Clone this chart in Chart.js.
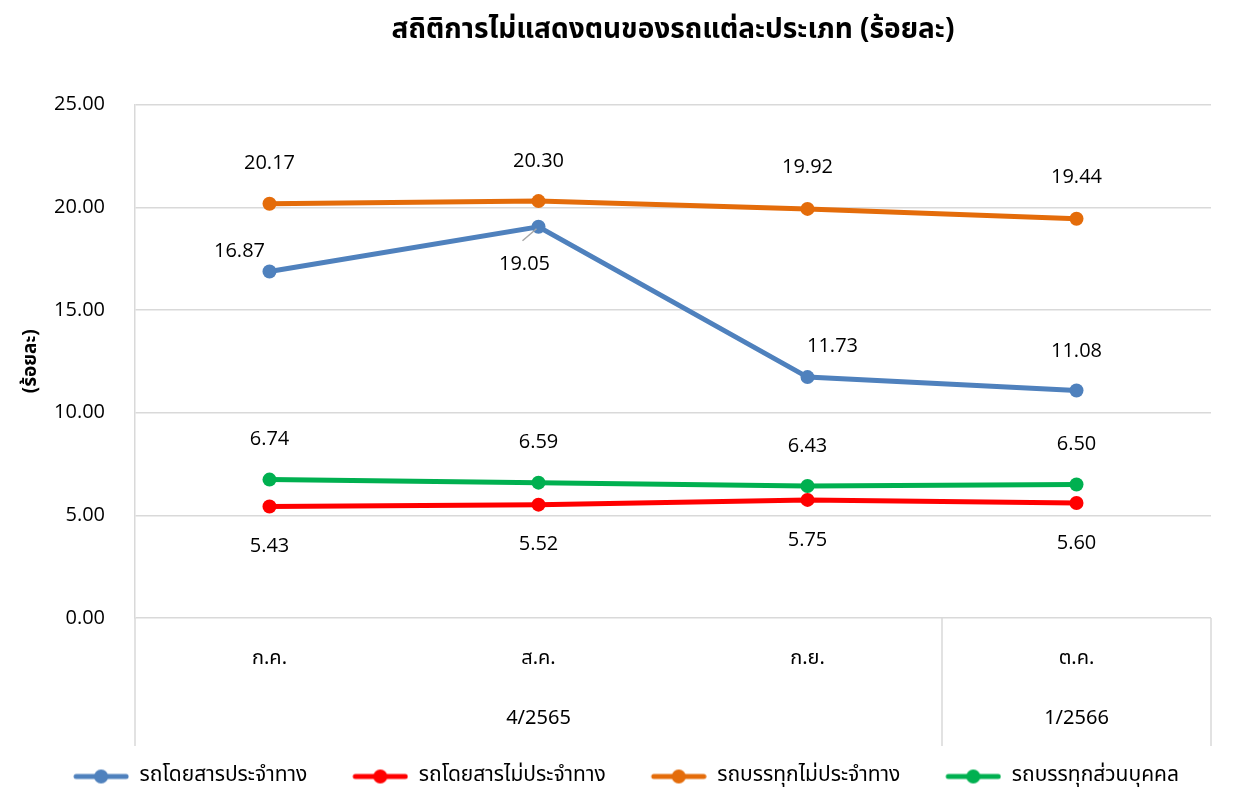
<!DOCTYPE html>
<html>
<head>
<meta charset="utf-8">
<script src="https://cdn.jsdelivr.net/npm/chart.js@4.4.0/dist/chart.umd.min.js"></script>
<style>
  html, body { margin: 0; padding: 0; background: #fff; }
  #wrap { width: 1255px; height: 787px; }
</style>
</head>
<body>
<div id="wrap"><canvas id="lineChart"></canvas></div>
<script>
// data
const months = ["ก.ค.", "ส.ค.", "ก.ย.", "ต.ค."];
const quarters = ["", "4/2565", "", "1/2566"];
const busRegular = [16.87, 19.05, 11.73, 11.08];
const busCharter = [5.43, 5.52, 5.75, 5.60];
const truckHire = [20.17, 20.30, 19.92, 19.44];
const truckPrivate = [6.74, 6.59, 6.43, 6.50];
const yTicks = [0, 5, 10, 15, 20, 25];

const thaiFont = "'Noto Sans Thai', 'Noto Sans', sans-serif";
const numFont = "'Open Sans', 'Noto Sans', sans-serif";

// where each dataset puts its value labels: [dx, dy] per point
const labelOffsets = [
    [[-30, -20], [-14, 38], [25, -31], [0, -39]],
    [[0, 40], [0, 40], [0, 40], [0, 40]],
    [[0, -40], [0, -40], [0, -42], [0, -41]],
    [[0, -40], [0, -40], [0, -40], [0, -40]]
];

// legend marker: line with a dot, drawn on the right part of a wider canvas
function legendMarker(color) {
    const c = document.createElement("canvas");
    c.width = 97;
    c.height = 16;
    const g = c.getContext("2d");
    g.strokeStyle = color;
    g.lineWidth = 5;
    g.lineCap = "round";
    g.beginPath();
    g.moveTo(44, 8);
    g.lineTo(94, 8);
    g.stroke();
    g.fillStyle = color;
    g.beginPath();
    g.arc(69, 8, 7, 0, Math.PI * 2);
    g.fill();
    return c;
}

// value labels next to points
const valueLabels = {
    id: "valueLabels",
    afterDatasetsDraw(chart) {
        const ctx = chart.ctx;
        ctx.save();
        ctx.font = "20px " + numFont;
        ctx.fillStyle = "#000";
        ctx.textAlign = "center";
        ctx.textBaseline = "middle";
        chart.data.datasets.forEach((ds, di) => {
            chart.getDatasetMeta(di).data.forEach((pt, i) => {
                const off = labelOffsets[di][i];
                ctx.fillText(ds.data[i].toFixed(2), pt.x + off[0], pt.y + off[1]);
            });
        });
        // leader line for 19.05
        const p = chart.getDatasetMeta(0).data[1];
        ctx.strokeStyle = "#a6a6a6";
        ctx.lineWidth = 1.5;
        ctx.beginPath();
        ctx.moveTo(p.x - 16, p.y + 14);
        ctx.lineTo(p.x - 2, p.y + 2);
        ctx.stroke();
        ctx.restore();
    }
};

// separators below the plot between the quarter groups
const groupLines = {
    id: "groupLines",
    afterDraw(chart) {
        const x = chart.scales.x;
        const area = chart.chartArea;
        const half = (x.getPixelForValue(1) - x.getPixelForValue(0)) / 2;
        const edges = [area.left, x.getPixelForValue(2) + half, area.right];
        const ctx = chart.ctx;
        ctx.save();
        ctx.strokeStyle = "#d9d9d9";
        ctx.lineWidth = 1.5;
        edges.forEach(px => {
            ctx.beginPath();
            ctx.moveTo(px, area.bottom);
            ctx.lineTo(px, area.bottom + 128);
            ctx.stroke();
        });
        ctx.restore();
    }
};

const ctx = document.getElementById("lineChart").getContext("2d");

function series(label, data, color) {
    return {
        label: label,
        data: data,
        borderColor: color,
        backgroundColor: color,
        borderWidth: 5,
        pointRadius: 7,
        pointHoverRadius: 7,
        pointBorderWidth: 0,
        tension: 0
    };
}

new Chart(ctx, {
    type: "line",
    data: {
        labels: months.map((m, i) => [m, quarters[i]]),
        datasets: [
            series("รถโดยสารประจำทาง", busRegular, "#4f81bd"),
            series("รถโดยสารไม่ประจำทาง", busCharter, "#ff0000"),
            series("รถบรรทุกไม่ประจำทาง", truckHire, "#e46c0a"),
            series("รถบรรทุกส่วนบุคคล", truckPrivate, "#00b050")
        ]
    },
    options: {
        responsive: true,
        maintainAspectRatio: false,
        animation: false,
        layout: { padding: { left: 0, right: 44, top: 0, bottom: -10 } },
        plugins: {
            title: {
                display: true,
                text: "สถิติการไม่แสดงตนของรถแต่ละประเภท (ร้อยละ)",
                fullSize: false,
                color: "#000",
                font: { family: thaiFont, size: 28, weight: "bold" },
                padding: { top: 16, bottom: 55 }
            },
            legend: {
                position: "bottom",
                labels: {
                    usePointStyle: true,
                    pointStyleWidth: 97,
                    padding: 4,
                    color: "#000",
                    font: { family: thaiFont, size: 21 },
                    generateLabels(chart) {
                        return chart.data.datasets.map((ds, i) => ({
                            text: ds.label,
                            pointStyle: legendMarker(ds.borderColor),
                            fillStyle: ds.borderColor,
                            strokeStyle: ds.borderColor,
                            lineWidth: 0,
                            hidden: false,
                            datasetIndex: i
                        }));
                    }
                }
            },
            tooltip: { enabled: false }
        },
        scales: {
            x: {
                offset: true,
                grid: { display: false, drawTicks: false },
                border: { display: false },
                ticks: {
                    color: "#000",
                    padding: 12,
                    maxRotation: 0,
                    font: { family: thaiFont, size: 20, lineHeight: 3 }
                }
            },
            y: {
                min: 0,
                max: 25,
                afterBuildTicks(axis) {
                    axis.ticks = yTicks.map(v => ({ value: v }));
                },
                afterFit(axis) {
                    axis.width = 135;
                },
                grid: { color: "#d9d9d9", lineWidth: 1.5, drawTicks: false },
                border: { display: true, color: "#d9d9d9", width: 1.5 },
                ticks: {
                    color: "#000",
                    padding: 30,
                    font: { family: numFont, size: 20 },
                    callback: v => Number(v).toFixed(2)
                },
                title: {
                    display: true,
                    text: "(ร้อยละ)",
                    color: "#000",
                    font: { family: thaiFont, size: 19, weight: "bold" },
                    padding: { top: 21, bottom: 0 }
                }
            }
        }
    },
    plugins: [valueLabels, groupLines]
});
</script>
</body>
</html>
